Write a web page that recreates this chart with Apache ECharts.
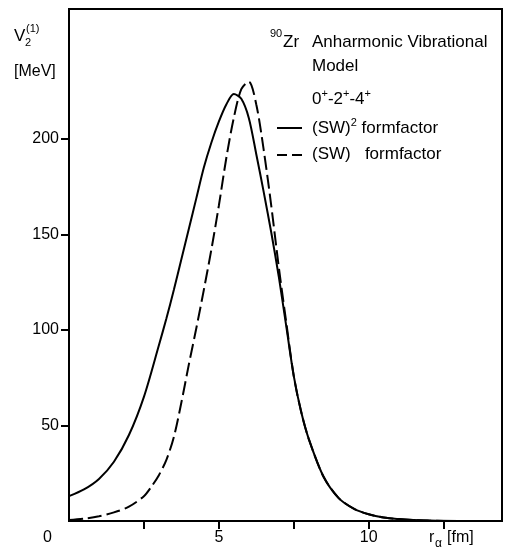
<!DOCTYPE html>
<html>
<head>
<meta charset="utf-8">
<script src="https://cdn.jsdelivr.net/npm/echarts@6/dist/echarts.min.js"></script>
<style>
  html, body { margin: 0; padding: 0; background: #fff; }
  #chart { width: 506px; height: 560px; }
</style>
</head>
<body>
<div id="chart"></div>
<script>
// r_alpha [fm] and V2 [MeV]
var solidX = [0, 0.5, 1, 1.5, 2, 2.5, 3, 3.25, 3.5, 3.75, 4, 4.25, 4.5, 4.75, 5, 5.25, 5.5, 5.75, 6, 6.25, 6.5, 6.75, 7, 7.25, 7.5, 7.75, 8, 8.5, 9, 9.5, 10, 10.5, 11, 11.5, 12, 13, 14.45];
var solidY = [13, 16.5, 22, 31, 45, 65, 92, 106, 121, 137, 153, 169, 185, 198, 209, 218, 223.5, 221, 211, 192, 172, 151, 128, 102, 76, 57, 43, 23, 12, 6.5, 3.5, 1.8, 1, 0.5, 0.2, 0, 0];
var dashX = [0, 0.5, 1, 1.5, 2, 2.5, 2.75, 3, 3.25, 3.5, 3.75, 4, 4.25, 4.5, 4.75, 5, 5.25, 5.5, 5.75, 6, 6.25, 6.5, 6.75, 7, 7.25, 7.5, 7.75, 8, 8.5, 9, 9.5, 10, 10.5, 11, 11.5, 12, 13, 14.45];
var dashY = [0.5, 1.2, 2.5, 4.5, 7.5, 13, 18, 24, 32, 44, 62, 82, 101, 121, 142, 165, 190, 211, 226, 230, 218, 194, 165, 133, 104, 76, 57, 43, 23, 12, 6.5, 3.5, 1.8, 1, 0.5, 0.2, 0, 0];

var xTicks = [2.5, 5, 7.5, 10, 12.5];
var xLabels = [5, 10];
var yTicks = [50, 100, 150, 200];

function pairs(xs, ys) {
  return xs.map(function (x, i) { return [x, ys[i]]; });
}

var font = '"Liberation Sans", Arial, sans-serif';
var sup = { fontSize: 11, fontFamily: font, verticalAlign: 'top', lineHeight: 20 };
var base = { fontSize: 17, fontFamily: font, verticalAlign: 'bottom', lineHeight: 20 };

var chart = echarts.init(document.getElementById('chart'));

var option = {
  backgroundColor: '#fff',
  animation: false,
  textStyle: { fontFamily: font, color: '#000' },
  grid: {
    left: 69, right: 4, top: 9, bottom: 39,
    show: true, borderColor: '#000', borderWidth: 2, backgroundColor: 'transparent'
  },
  xAxis: {
    type: 'value',
    min: 0, max: 14.45,
    splitLine: { show: false },
    axisLine: { show: true, lineStyle: { color: '#000', width: 2 } },
    axisTick: { show: true, customValues: xTicks, length: 8, lineStyle: { color: '#000', width: 2 } },
    axisLabel: { customValues: xLabels, fontSize: 16, color: '#000', margin: 9, fontFamily: font }
  },
  yAxis: {
    type: 'value',
    min: 0, max: 268,
    splitLine: { show: false },
    axisLine: { show: true, lineStyle: { color: '#000', width: 2 } },
    axisTick: { show: true, customValues: yTicks, length: 8, lineStyle: { color: '#000', width: 2 } },
    axisLabel: { customValues: yTicks, fontSize: 16, color: '#000', margin: 10, fontFamily: font }
  },
  series: [
    {
      name: '(SW)2 formfactor',
      type: 'line',
      smooth: 0.3,
      showSymbol: false,
      lineStyle: { color: '#000', width: 2 },
      data: pairs(solidX, solidY)
    },
    {
      name: '(SW) formfactor',
      type: 'line',
      smooth: 0.3,
      showSymbol: false,
      lineStyle: { color: '#000', width: 2, type: [14, 5] },
      data: pairs(dashX, dashY)
    }
  ],
  graphic: [
    // y axis title
    { type: 'text', left: 14, top: 28, style: { text: 'V', fontSize: 17, fontFamily: font, fill: '#000' } },
    { type: 'text', left: 26, top: 23, style: { text: '(1)', fontSize: 11, fontFamily: font, fill: '#000' } },
    { type: 'text', left: 25, top: 37, style: { text: '2', fontSize: 11, fontFamily: font, fill: '#000' } },
    { type: 'text', left: 14, top: 64, style: { text: '[MeV]', fontSize: 16, fontFamily: font, fill: '#000' } },
    // x axis title and origin
    { type: 'text', left: 43, top: 530, style: { text: '0', fontSize: 16, fontFamily: font, fill: '#000' } },
    { type: 'text', left: 429, top: 530, style: { text: 'r', fontSize: 16, fontFamily: font, fill: '#000' } },
    { type: 'text', left: 435, top: 538, style: { text: 'α', fontSize: 12, fontFamily: font, fill: '#000' } },
    { type: 'text', left: 447, top: 530, style: { text: '[fm]', fontSize: 16, fontFamily: font, fill: '#000' } },
    // annotation block
    { type: 'text', left: 270, top: 28, style: { text: '90', fontSize: 11, fontFamily: font, fill: '#000' } },
    { type: 'text', left: 283, top: 34, style: { text: 'Zr', fontSize: 17, fontFamily: font, fill: '#000' } },
    { type: 'text', left: 312, top: 34, style: { text: 'Anharmonic Vibrational', fontSize: 17, fontFamily: font, fill: '#000' } },
    { type: 'text', left: 312, top: 58, style: { text: 'Model', fontSize: 17, fontFamily: font, fill: '#000' } },
    { type: 'text', left: 312, top: 88, style: { text: '{b|0}{s|+}{b|-2}{s|+}{b|-4}{s|+}', rich: { b: base, s: sup } } },
    { type: 'line', shape: { x1: 277, y1: 128, x2: 302, y2: 128 }, style: { stroke: '#000', lineWidth: 2 } },
    { type: 'text', left: 312, top: 117, style: { text: '{b|(SW)}{s|2}{b| formfactor}', rich: { b: base, s: sup } } },
    { type: 'line', shape: { x1: 277, y1: 155, x2: 302, y2: 155 }, style: { stroke: '#000', lineWidth: 2, lineDash: [10, 5] } },
    { type: 'text', left: 312, top: 146, style: { text: '(SW)   formfactor', fontSize: 17, fontFamily: font, fill: '#000' } }
  ]
};

chart.setOption(option);
</script>
</body>
</html>
